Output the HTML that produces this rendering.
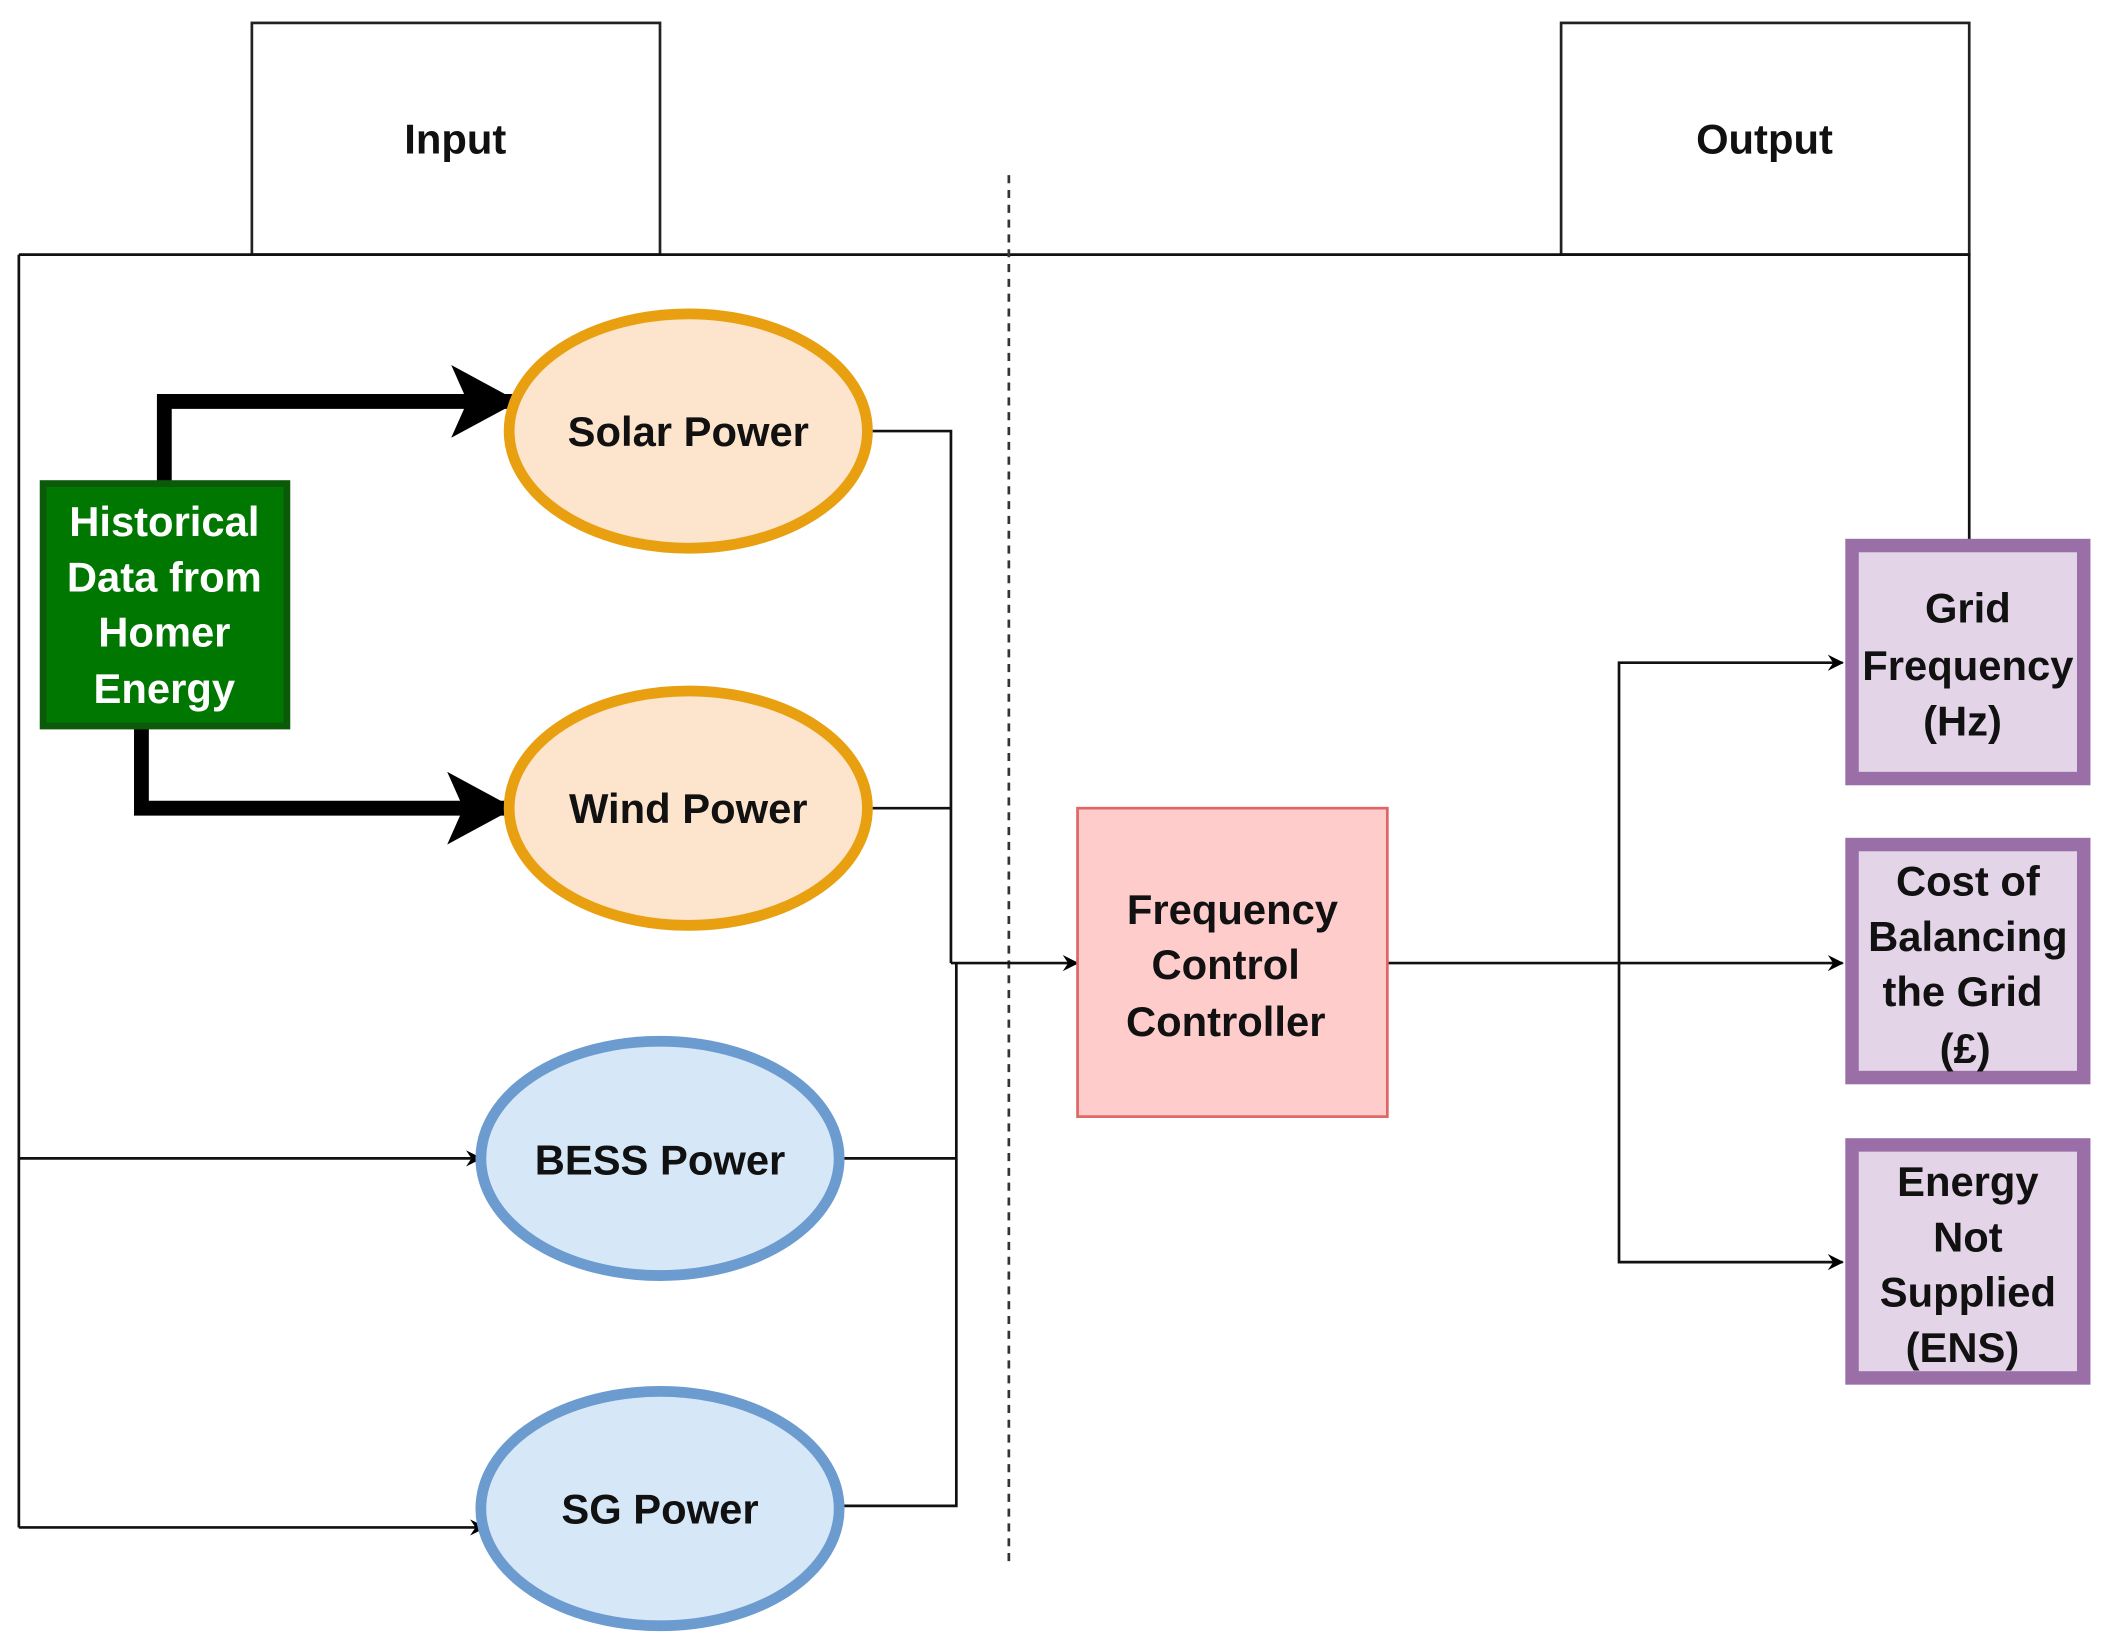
<!DOCTYPE html>
<html><head><meta charset="utf-8"><style>
html,body{margin:0;padding:0;background:#fff}
svg{display:block}
text{font-family:"Liberation Sans",sans-serif;font-weight:bold;font-size:31px;text-anchor:middle;fill:#111}
</style></head><body>
<svg width="2112" height="1646" viewBox="0 0 1568 1222" xmlns="http://www.w3.org/2000/svg">
<defs>
<marker id="a" markerWidth="12" markerHeight="12" refX="11" refY="6" orient="auto" markerUnits="userSpaceOnUse"><path d="M0,0 L12,6 L0,12 L4,6 z" fill="#000"/></marker>
<marker id="b" markerWidth="50" markerHeight="54" refX="48" refY="27" orient="auto" markerUnits="userSpaceOnUse"><path d="M0,0 L50,27 L0,54 L12,27 z" fill="#000"/></marker>
</defs>
<rect width="1568" height="1222" fill="#fff"/>
<rect x="187" y="17" width="303" height="172" fill="#fff" stroke="#222" stroke-width="2"/>
<text x="338" y="114">Input</text>
<rect x="1159" y="17" width="303" height="172" fill="#fff" stroke="#222" stroke-width="2"/>
<text x="1310" y="114">Output</text>
<path d="M14,189 H1462 V405 M14,189 V1134" fill="none" stroke="#111" stroke-width="2"/>
<line x1="749" y1="130" x2="749" y2="1162" stroke="#333" stroke-width="2" stroke-dasharray="6,5"/>
<path d="M14,860 H357" fill="none" stroke="#111" stroke-width="2" marker-end="url(#a)"/>
<path d="M14,1134 H360" fill="none" stroke="#111" stroke-width="2" marker-end="url(#a)"/>
<path d="M645,320 H706 V715 M645,600 H706 M625,860 H710 V715 M625,1118 H710 V860" fill="none" stroke="#111" stroke-width="2"/>
<path d="M706,715 H800" fill="none" stroke="#111" stroke-width="2" marker-end="url(#a)"/>
<path d="M1030,715 H1368" fill="none" stroke="#111" stroke-width="2" marker-end="url(#a)"/>
<path d="M1202,715 V492 H1368" fill="none" stroke="#111" stroke-width="2" marker-end="url(#a)"/>
<path d="M1202,715 V937 H1368" fill="none" stroke="#111" stroke-width="2" marker-end="url(#a)"/>
<path d="M122,357 V298 H383" fill="none" stroke="#000" stroke-width="11" marker-end="url(#b)"/>
<path d="M105,541 V600 H380" fill="none" stroke="#000" stroke-width="11" marker-end="url(#b)"/>
<ellipse cx="511" cy="320" rx="133" ry="87" fill="#FDE4CC" stroke="#E8A010" stroke-width="8"/>
<text x="511" y="331">Solar Power</text>
<ellipse cx="511" cy="600" rx="133" ry="87" fill="#FDE4CC" stroke="#E8A010" stroke-width="8"/>
<text x="511" y="611">Wind Power</text>
<ellipse cx="490" cy="860" rx="133" ry="87" fill="#D6E8F8" stroke="#6C9BD0" stroke-width="8"/>
<text x="490" y="872">BESS Power</text>
<ellipse cx="490" cy="1120" rx="133" ry="87" fill="#D6E8F8" stroke="#6C9BD0" stroke-width="8"/>
<text x="490" y="1131">SG Power</text>
<rect x="32" y="359" width="181" height="180" fill="#007700" stroke="#0a5a0a" stroke-width="5"/>
<text x="122" y="398" style="fill:#fff">Historical</text>
<text x="122" y="439" style="fill:#fff">Data from</text>
<text x="122" y="480" style="fill:#fff">Homer</text>
<text x="122" y="522" style="fill:#fff">Energy</text>
<rect x="800" y="600" width="230" height="229" fill="#FFCCCC" stroke="#E06666" stroke-width="2"/>
<text x="915" y="686">Frequency</text>
<text x="910" y="727">Control</text>
<text x="910" y="769">Controller</text>
<rect x="1375" y="405" width="172" height="173" fill="#E4D4E8" stroke="#9A6FA8" stroke-width="10"/>
<text x="1461" y="462">Grid</text>
<text x="1461" y="505">Frequency</text>
<text x="1457" y="546">(Hz)</text>
<rect x="1375" y="627" width="172" height="173" fill="#E4D4E8" stroke="#9A6FA8" stroke-width="10"/>
<text x="1461" y="665">Cost of</text>
<text x="1461" y="706">Balancing</text>
<text x="1457" y="747">the Grid</text>
<text x="1459" y="789">(£)</text>
<rect x="1375" y="850" width="172" height="173" fill="#E4D4E8" stroke="#9A6FA8" stroke-width="10"/>
<text x="1461" y="888">Energy</text>
<text x="1461" y="929">Not</text>
<text x="1461" y="970">Supplied</text>
<text x="1457" y="1011">(ENS)</text>
</svg>
</body></html>
